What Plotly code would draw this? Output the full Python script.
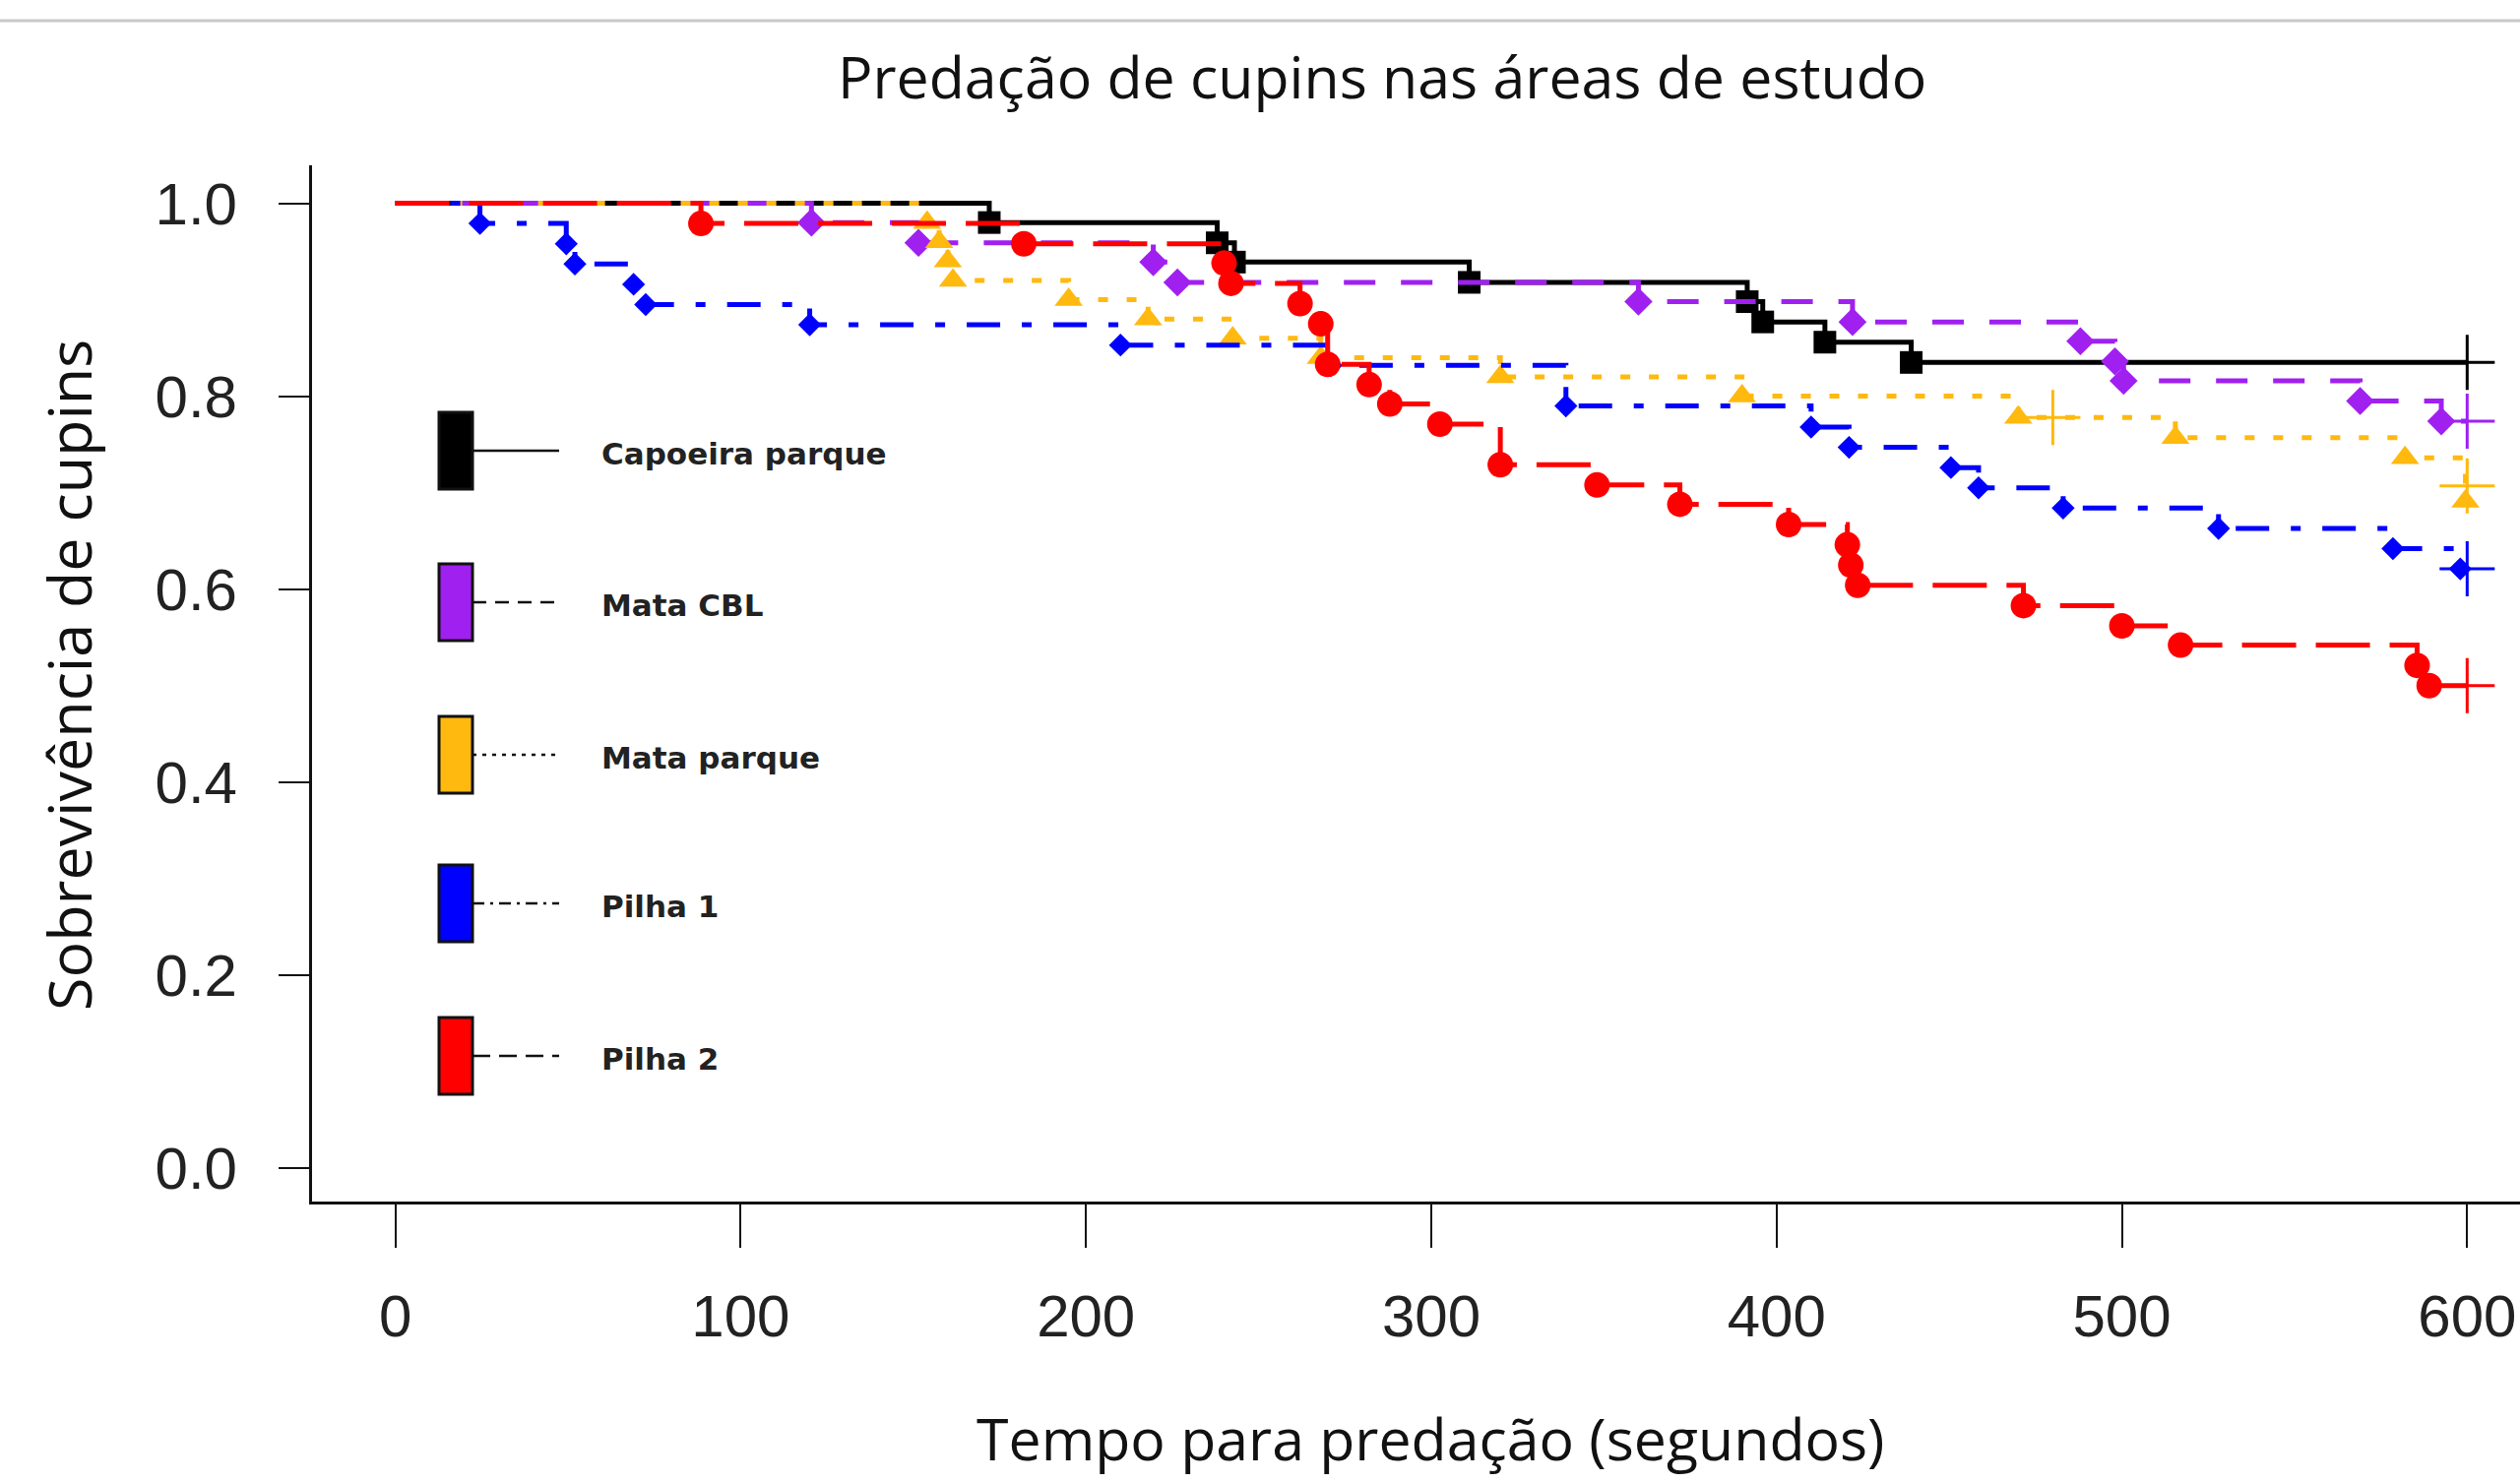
import plotly.graph_objects as go

# ---------------- data ----------------
series_names = ["Capoeira parque", "Mata CBL", "Mata parque", "Pilha 1", "Pilha 2"]

capoeira_t = [172, 238, 243, 311, 391.5, 396, 414, 439]
capoeira_s = [0.98, 0.959, 0.939, 0.918, 0.898, 0.877, 0.856, 0.835]
capoeira_cens_t = [600]
capoeira_cens_s = [0.835]

matacbl_t = [120.5, 151.5, 219.5, 226.5, 360, 422, 488, 498, 500.5, 569, 592.5]
matacbl_s = [0.98, 0.959, 0.939, 0.918, 0.898, 0.877, 0.857, 0.836, 0.816, 0.795, 0.774]
matacbl_cens_t = [600]
matacbl_cens_s = [0.774]

mataparque_t = [154, 157.5, 160, 161.5, 195, 218, 242.5, 268, 320, 390, 470, 515.5, 582, 599.5]
mataparque_s = [0.98, 0.96, 0.94, 0.92, 0.90, 0.88, 0.86, 0.84, 0.82, 0.80, 0.778, 0.757, 0.736, 0.691]
mataparque_cens_t = [480, 600]
mataparque_cens_s = [0.778, 0.707]

pilha1_t = [24.5, 49.5, 52, 69, 72.5, 120, 210, 271, 339, 410, 421, 450.5, 458.5, 483, 528, 578.5, 598]
pilha1_s = [0.979, 0.958, 0.937, 0.916, 0.895, 0.874, 0.853, 0.832, 0.79, 0.768, 0.747, 0.726,
            0.705, 0.684, 0.663, 0.642, 0.621]
pilha1_cens_t = [600]
pilha1_cens_s = [0.621]

pilha2_t = [88.5, 182, 240, 242, 262, 268, 270, 282, 288, 302.5, 320, 348, 372, 403.5, 420.5,
            421.5, 423.5, 471.5, 500, 517, 585.5, 589]
pilha2_s = [0.979, 0.958, 0.938, 0.917, 0.896, 0.875, 0.833, 0.812, 0.792, 0.771, 0.729, 0.708,
            0.688, 0.667, 0.646, 0.625, 0.604, 0.583, 0.562, 0.542, 0.521, 0.5]
pilha2_cens_t = [600]
pilha2_cens_s = [0.5]

x_ticks = [0, 100, 200, 300, 400, 500, 600]
y_ticks = [0.0, 0.2, 0.4, 0.6, 0.8, 1.0]

title_text = "Predação de cupins nas áreas de estudo"
x_title = "Tempo para predação (segundos)"
y_title = "Sobrevivência de cupins"

# ---------------- styling ----------------
colors = ["#000000", "#A020F0", "#FFB90F", "#0000FF", "#FF0000"]
dashes = ["solid", "32px,26px", "10px,19px", "34px,22px,10px,22px", "55px,20px"]
symbols = ["square", "diamond", "triangle-up", "diamond", "circle"]
msizes = [23, 22, 25, 18, 26]
legend_dashes = ["solid", "14px,9px", "4px,6px", "12px,6px,3px,6px", "18px,9px"]

series = [
    (capoeira_t, capoeira_s, capoeira_cens_t, capoeira_cens_s),
    (matacbl_t, matacbl_s, matacbl_cens_t, matacbl_cens_s),
    (mataparque_t, mataparque_s, mataparque_cens_t, mataparque_cens_s),
    (pilha1_t, pilha1_s, pilha1_cens_t, pilha1_cens_s),
    (pilha2_t, pilha2_s, pilha2_cens_t, pilha2_cens_s),
]

W, H = 2560, 1506
L, R, T, B = 317, 0, 168, 285
pw = W - L - R
ph = H - T - B


def px(x):
    return (x - L) / pw


def py(y):
    return (H - B - y) / ph


fig = go.Figure()

for i, (t, s, ct, cs) in enumerate(series):
    xs = [0] + t + [600]
    ys = [1.0] + s + [s[-1]]
    fig.add_trace(go.Scatter(
        x=xs, y=ys, mode="lines", line=dict(color=colors[i], width=5, dash=dashes[i], shape="hv"),
        showlegend=False, hoverinfo="skip"))
    fig.add_trace(go.Scatter(
        x=t, y=s, mode="markers",
        marker=dict(symbol=symbols[i], size=msizes[i], color=colors[i], line=dict(width=0)),
        showlegend=False, name=series_names[i]))
    fig.add_trace(go.Scatter(
        x=ct, y=cs, mode="markers",
        marker=dict(symbol="cross-thin", size=40, line=dict(width=3, color=colors[i])),
        showlegend=False, hoverinfo="skip"))

shapes = []
annotations = []

# top grey page rule
shapes.append(dict(type="line", xref="paper", yref="paper", x0=px(0), x1=px(W), y0=py(21), y1=py(21),
                   line=dict(color="#c8c8c8", width=3)))

# hand-drawn legend
leg_cy = [458, 612, 767, 918, 1073]
for i, cy in enumerate(leg_cy):
    shapes.append(dict(type="line", xref="paper", yref="paper", x0=px(480), x1=px(568),
                       y0=py(cy), y1=py(cy), line=dict(color="#111", width=2.5, dash=legend_dashes[i])))
    shapes.append(dict(type="rect", xref="paper", yref="paper", x0=px(446), x1=px(480),
                       y0=py(cy + 39), y1=py(cy - 39), fillcolor=colors[i],
                       line=dict(color="#111", width=3)))
    annotations.append(dict(xref="paper", yref="paper", x=px(609), y=py(cy + 3), text=series_names[i],
                            showarrow=False, xanchor="left", yanchor="middle",
                            font=dict(family="DejaVu Sans", size=31, color="#222", weight="bold")))

annotations.append(dict(xref="paper", yref="paper", x=px(1404), y=py(77), text=title_text,
                        showarrow=False, xanchor="center", yanchor="middle",
                        font=dict(family="Open Sans", size=59, color="#111")))
annotations.append(dict(xref="paper", yref="paper", x=px(1453), y=py(1461), text=x_title,
                        showarrow=False, xanchor="center", yanchor="middle",
                        font=dict(family="Open Sans", size=59, color="#111")))
annotations.append(dict(xref="paper", yref="paper", x=px(69), y=py(686), text=y_title, textangle=-90,
                        showarrow=False, xanchor="center", yanchor="middle",
                        font=dict(family="Open Sans", size=61, color="#111")))

fig.update_layout(
    width=W, height=H,
    margin=dict(l=L, r=R, t=T, b=B, pad=0),
    paper_bgcolor="white", plot_bgcolor="white",
    shapes=shapes, annotations=annotations,
    showlegend=False,
)

fig.update_xaxes(
    range=[-24.12, 615.3], tickvals=x_ticks, ticks="outside", ticklen=44, tickwidth=2, tickcolor="#111",
    showline=True, linecolor="#111", linewidth=3, showgrid=False, zeroline=False,
    ticklabelstandoff=18,
    tickfont=dict(family="Liberation Sans", size=60, color="#222"),
)
fig.update_yaxes(
    range=[-0.0347, 1.0393], tickvals=y_ticks, tickformat=".1f", ticks="outside", ticklen=31, tickwidth=2,
    tickcolor="#111", showline=True, linecolor="#111", linewidth=3, showgrid=False, zeroline=False,
    ticklabelstandoff=30,
    tickfont=dict(family="Liberation Sans", size=60, color="#222"),
)

fig.write_html("out.html", config={"displayModeBar": False},
               post_script="document.body.style.margin='0';document.body.style.overflow='hidden';")
